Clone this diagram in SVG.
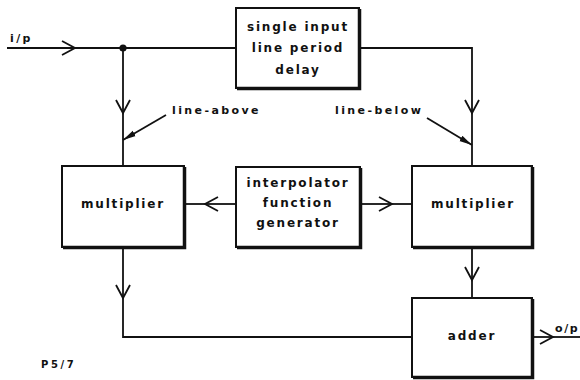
<svg xmlns="http://www.w3.org/2000/svg" width="580" height="380" viewBox="0 0 580 380">
<defs>
<marker id="v" markerUnits="userSpaceOnUse" markerWidth="16" markerHeight="18" refX="14" refY="8" orient="auto">
<path d="M1,1 L14,8 L1,15" fill="none" stroke="#111" stroke-width="1.8"/>
</marker>
<marker id="f" markerUnits="userSpaceOnUse" markerWidth="14" markerHeight="8" refX="13" refY="4" orient="auto">
<path d="M0,1 L13,4 L0,7 Z" fill="#111"/>
</marker>
</defs>
<style>
.box{fill:#fff;stroke:#111;stroke-width:2}
.sh{fill:none;stroke:#111;stroke-width:3.5}
.ln{fill:none;stroke:#111;stroke-width:1.8}
.t{font-family:"DejaVu Sans",sans-serif;font-size:12px;font-weight:bold;fill:#111;letter-spacing:1.8px;text-anchor:middle}
.s{font-family:"DejaVu Sans",sans-serif;font-size:11px;font-weight:bold;fill:#111;letter-spacing:2.4px}
</style>
<rect width="580" height="380" fill="#fff"/>
<g id="connectors">
<path class="ln" d="M7,48 L75,48" marker-end="url(#v)"/>
<path class="ln" d="M75,48 L236,48"/>
<circle cx="123" cy="48" r="3.6" fill="#111"/>
<path class="ln" d="M123,48 L123,113" marker-end="url(#v)"/>
<path class="ln" d="M123,113 L123,166"/>
<path class="ln" d="M360,48 L472,48 L472,113" marker-end="url(#v)"/>
<path class="ln" d="M472,113 L472,166"/>
<path class="ln" d="M166,115 L123,140" marker-end="url(#f)"/>
<path class="ln" d="M427,118 L472,145" marker-end="url(#f)"/>
<path class="ln" d="M236,204 L205,204" marker-end="url(#v)"/>
<path class="ln" d="M205,204 L184,204"/>
<path class="ln" d="M361,204 L392,204" marker-end="url(#v)"/>
<path class="ln" d="M392,204 L412,204"/>
<path class="ln" d="M123,248 L123,298" marker-end="url(#v)"/>
<path class="ln" d="M123,298 L123,337 L412,337"/>
<path class="ln" d="M472,248 L472,280" marker-end="url(#v)"/>
<path class="ln" d="M472,280 L472,298"/>
<path class="ln" d="M533,337 L553,337" marker-end="url(#v)"/>
<path class="ln" d="M553,337 L580,337"/>
</g>
<g id="delay">
<rect class="box" x="236" y="8" width="123" height="80"/>
<path class="sh" d="M237,88.5 L359.5,88.5 L359.5,9"/>
<text class="t" x="298" y="31">single input</text>
<text class="t" x="298" y="52">line period</text>
<text class="t" x="298" y="74">delay</text>
</g>
<g id="mult-left">
<rect class="box" x="62" y="166" width="122" height="81"/>
<path class="sh" d="M63,247.5 L184.5,247.5 L184.5,167"/>
<text class="t" x="123" y="208">multiplier</text>
</g>
<g id="interp">
<rect class="box" x="236" y="167" width="124" height="80"/>
<path class="sh" d="M237,247.5 L360.5,247.5 L360.5,168"/>
<text class="t" x="298" y="187">interpolator</text>
<text class="t" x="298" y="207">function</text>
<text class="t" x="298" y="227">generator</text>
</g>
<g id="mult-right">
<rect class="box" x="412" y="166" width="120" height="81"/>
<path class="sh" d="M413,247.5 L532.5,247.5 L532.5,167"/>
<text class="t" x="473" y="208">multiplier</text>
</g>
<g id="adder">
<rect class="box" x="412" y="298" width="120" height="79"/>
<path class="sh" d="M413,377.5 L532.5,377.5 L532.5,299"/>
<text class="t" x="472" y="340">adder</text>
</g>
<g id="labels">
<text class="s" x="10" y="42">i/p</text>
<text class="s" x="555" y="332" style="letter-spacing:1.6px">o/p</text>
<text class="s" x="172" y="114">line-above</text>
<text class="s" x="335" y="114">line-below</text>
<text class="s" x="41" y="368" style="font-size:10px;letter-spacing:2.6px">P5/7</text>
</g>
</svg>
